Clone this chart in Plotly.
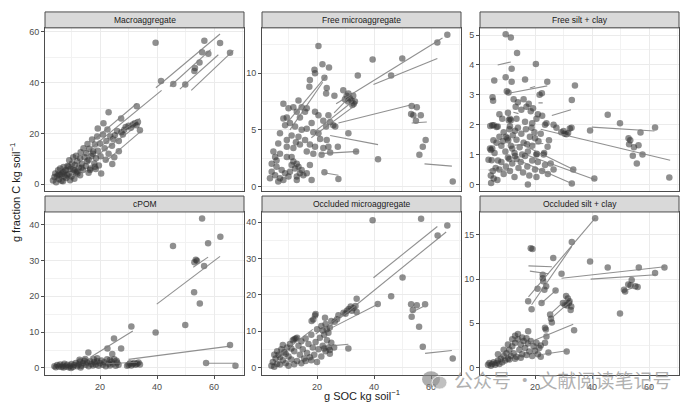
import plotly.graph_objects as go

# ---------------- data ----------------
panel_titles = ["Macroaggregate", "Free microaggregate", "Free silt + clay",
                "cPOM", "Occluded microaggregate", "Occluded silt + clay"]

macro_pts = [(39.5,55.7),(41.4,40.7),(45.7,39.5),(49.9,39.3),(53.1,44.6),(53.3,45.8),(54.9,48.0),(55.8,52.0),(56.6,56.5),(58.0,51.4),(62.1,55.6),(65.6,51.8),
    (32.9,30.7),(23.0,28.4),(27.4,25.9),(34.0,21.3),(19.2,22.0),(21.2,24.0),(20.4,4.2),(24.3,8.0),(26.6,13.0),(25.2,19.3),
    (29.0,22.5),(30.0,23.0),(30.8,22.2),(31.5,23.5),(32.2,24.0),(32.8,23.2),(33.3,24.5),(28.5,21.5),(27.5,20.5),(26.0,21.0),
    (3.5,1.5),(4.0,2.8),(4.3,4.2),(4.6,0.8),(5.0,3.2),(5.3,5.5),(5.6,2.0),(6.0,6.2),(6.1,3.6),(6.5,1.4),(7.0,4.6),(7.2,6.8),(7.6,3.0),(8.0,5.6),(8.1,2.4),(8.6,7.2),(9.0,4.0),(9.2,9.4),(9.6,6.0),(10.0,3.0),(10.2,8.2),(10.6,10.6),(11.0,5.4),(11.2,7.6),(11.6,11.2),(12.0,9.0),(12.1,4.2),(12.6,6.6),(13.0,10.2),(13.2,12.6),(13.6,8.0),(14.0,5.6),(14.2,14.2),(14.6,10.6),(15.0,7.2),(15.2,12.2),(15.6,15.8),(16.0,9.6),(16.2,14.0),(16.6,6.2),(17.0,11.0),(17.2,17.6),(17.6,13.0),(18.0,8.2),(18.2,15.6),(18.6,10.2),(19.0,18.8),(19.2,13.2),(19.6,7.4),(20.0,16.0),(20.2,11.0),(21.0,19.6),(21.6,14.2),(22.0,9.6),(22.2,17.0),(22.6,21.6),(23.0,12.0),(23.6,18.8),(24.2,15.2),(24.6,17.8),(25.0,10.6),(26.6,17.0),(28.0,19.6),
    (12.0,5.0),(11.5,4.6),(10.5,5.8),(9.0,7.0),(7.5,5.0),(6.5,4.0),(5.5,3.8),(8.5,3.6),(13.5,6.5),(15.5,9.0),(17.5,12.0),(9.5,1.6),(11.0,2.2),(13.0,3.5),(7.0,1.2),(16.0,4.5),(18.5,6.0),(16.5,5.6),(18.2,6.9)]
macro_lines = [(39.6,38.0,62.1,59.2),(44.5,38.5,58.8,53.0),(48.0,37.5,61.5,51.0),(52.0,37.0,66.8,52.7),
    (17.7,17.4,32.9,31.8),(15.0,12.5,41.6,37.0),(20.0,14.8,34.0,25.9),(18.0,10.5,33.0,23.0),(22.0,9.0,34.5,21.0)]

freemicro_pts = [(20.5,12.4),(21.9,10.8),(24.2,10.5),(19.1,10.3),(19.3,10.0),(17.5,9.4),(17.3,8.8),(22.6,9.6),(23.4,8.7),(23.2,8.2),(26.1,8.0),(29.2,8.5),
    (30.4,8.0),(31.5,7.8),(32.1,7.6),(32.7,8.0),(33.3,7.5),(30.9,7.5),(32.4,7.2),(32.9,7.3),(31.0,8.2),(29.8,7.7),
    (34.3,9.8),(39.5,11.2),(46.0,9.8),(49.9,11.3),(62.2,12.7),(65.7,13.4),
    (53.2,7.1),(55.0,7.0),(53.0,6.4),(53.8,6.3),(54.7,5.8),(56.4,6.3),(58.1,4.1),(57.1,3.5),(55.9,2.8),(67.6,0.44),
    (41.4,2.4),(33.7,3.1),(27.3,3.5),(31.0,4.7),(25.7,5.4),(26.4,5.3),(22.6,1.26),(27.5,0.67),(18.1,0.58),
    (14.6,7.0),(16.4,6.9),(19.3,6.6),(20.5,6.3),(22.2,5.8),(24.0,6.3),(24.6,5.7),(23.2,5.3),(8.2,6.0),(8.8,5.4),(10.5,5.6),(12.3,5.3),(14.0,6.1),(14.6,5.0),(16.4,5.1),(18.1,5.6),(18.7,4.8),(20.5,4.7),(21.1,4.2),(23.4,4.1),(24.0,3.5),(22.2,3.4),(19.3,3.5),(17.5,3.7),(15.8,4.1),(13.5,4.4),(11.1,4.5),(9.4,4.1),(7.0,4.7),(6.4,3.8),(9.4,3.5),(11.7,3.4),(14.0,3.7),(16.4,3.1),(18.7,2.9),(21.6,2.8),(24.6,3.0),(12.6,3.9),
    (4.7,3.1),(5.3,2.6),(4.1,2.0),(5.8,1.75),(4.1,1.3),(5.3,1.0),(7.0,0.73),(6.4,0.44),(8.2,0.58),(10.0,0.88),(11.1,1.9),(11.7,2.2),(12.9,2.0),(13.5,1.75),(14.6,1.46),(15.2,1.0),(12.9,0.88),(17.5,1.9),(16.4,1.17),(7.6,1.46),(8.8,1.17),(10.5,1.3),(12.3,1.6),(14.0,1.17),(5.8,2.3),(7.0,2.9),(9.4,2.6),(11.1,2.6),(3.5,0.73),(12.9,0.58),
    (8.2,7.3),(10.0,6.9),(11.7,7.0),(12.9,6.6),(9.4,6.1),(13.5,7.6),(15.8,6.6)]
freemicro_lines = [(26.7,7.3,64.0,13.1),(39.8,9.0,62.2,11.3),(27.5,5.6,52.8,7.2),(53.2,5.6,58.5,5.7),(57.7,2.0,67.3,1.8),
    (24.6,4.5,41.4,3.7),(21.0,2.9,34.5,3.1),(22.9,1.2,27.5,1.0),(9.4,5.6,23.4,9.8),(10.5,5.0,22.0,9.2),
    (19.0,4.8,32.5,7.5),(18.0,4.3,33.0,7.1),(26.0,6.5,31.0,7.8)]

freesilt_pts = [(9.7,5.03),(11.5,4.92),(13.7,4.4),(11.8,3.87),(20.3,4.03),(9.7,3.59),(5.7,3.48),(11.8,3.44),(16.5,3.51),(24.3,3.44),(34.0,3.31),(32.9,2.83),(10.1,3.12),(10.7,3.08),(21.6,3.0),(22.4,3.05),(5.1,2.92),(5.3,2.8),
    (45.5,2.33),(49.8,2.05),(62.1,1.91),(57.0,1.74),(39.3,1.81),(52.8,1.55),(53.4,1.48),(53.0,1.35),(54.7,1.25),(56.3,1.31),(57.7,1.0),(54.3,0.96),(55.7,0.7),(67.1,0.23),
    (29.2,1.75),(30.4,1.7),(31.0,1.68),(31.6,1.72),(32.2,1.87),(30.0,1.79),(32.8,1.9),
    (40.8,0.2),(32.9,0.03),(33.4,0.5),(24.4,1.26),(24.9,1.48),(23.2,1.05),(23.0,1.0),
    (12.5,2.85),(13.2,2.6),(14.0,2.75),(15.2,2.5),(16.0,2.85),(17.0,2.6),(17.8,2.7),(18.5,2.45),(19.3,2.55),(20.5,2.2),(21.0,2.35),(7.5,2.35),(8.5,2.2),(10.5,2.4),(11.5,2.15),(13.5,2.2),(16.5,2.1),(19.0,2.05),(22.5,2.3),(23.5,2.0),(24.0,2.05),(4.3,1.96),(5.5,1.98),(6.5,1.92),(26.5,2.0),(27.5,1.9),
    (4.5,1.15),(5.0,1.2),(5.8,1.05),(6.5,1.4),(7.5,1.6),(8.2,1.3),(9.0,1.75),(9.6,1.1),(10.3,1.55),(11.0,1.85),(11.5,1.3),(12.2,1.65),(12.8,1.05),(13.5,1.5),(14.0,1.9),(14.6,1.25),(15.2,1.7),(16.0,1.4),(16.8,1.85),(17.5,1.1),(18.2,1.6),(19.0,1.3),(19.8,1.75),(20.5,1.0),(21.2,1.45),(22.0,1.7),(10.8,2.15),(11.2,1.95),(9.8,1.6),(12.0,1.2),(13.0,1.8),(8.7,1.45),(15.5,1.0),(17.2,1.35),(18.8,1.9),(20.0,1.55),
    (4.6,0.05),(4.5,0.3),(5.2,0.45),(5.5,0.2),(6.2,0.55),(6.8,0.15),(7.5,0.5),(8.2,0.75),(9.0,0.35),(9.8,0.6),(10.5,0.9),(11.2,0.45),(12.0,0.7),(12.8,0.25),(13.5,0.85),(14.2,0.55),(15.0,0.75),(15.8,0.4),(16.5,0.95),(17.3,0.6),(18.0,0.3),(19.0,0.8),(20.0,0.5),(21.0,0.75),(22.5,0.45),(23.5,0.65),(24.5,0.35),(25.5,0.7),(17.5,0.0),(11.0,0.85),(13.0,0.95),(7.0,0.8),(26.5,0.5),(20.5,0.25),
    (4.8,0.81),(3.7,0.83),(4.2,1.2),(5.4,1.48),(5.0,1.98),(6.9,1.94),(11.2,2.2),(20.6,1.03),(10.6,1.48)]
freesilt_lines = [(6.9,4.0,11.5,4.1),(11.2,3.06,24.3,3.3),(18.2,3.23,20.0,3.28),(25.9,2.31,32.6,2.5),(39.9,1.92,61.9,1.79),
    (22.0,1.85,67.4,0.81),(17.1,1.26,34.0,0.48),(15.9,1.03,41.6,0.14),(14.2,0.81,32.9,0.03),(3.7,0.48,11.3,0.48),
    (11.2,1.31,22.9,1.37),(12.4,2.42,14.2,2.37),(21.2,2.73,22.7,2.73)]

cpom_pts = [(55.8,41.7),(62.2,36.6),(57.9,34.8),(45.6,34.0),(53.6,30.2),(54.0,29.9),(53.1,29.5),(56.5,28.4),(53.0,21.1),(55.0,18.0),(49.9,12.0),(39.5,9.9),(65.6,6.4),(57.2,1.4),(67.5,0.65),
    (31.0,11.6),(24.9,8.2),(22.6,5.4),(27.4,5.4),(24.3,3.9),(15.9,4.3),(19.0,2.7),(23.5,2.2),
    (4.0,0.5),(4.5,0.2),(5.0,0.8),(5.5,0.4),(6.0,1.0),(6.5,0.3),(7.0,0.7),(7.5,1.2),(8.0,0.4),(8.5,0.9),(9.0,0.2),(9.5,0.6),(10.0,1.1),(10.5,0.3),(11.0,0.8),(11.5,1.4),(12.0,0.5),(12.5,1.0),(13.0,1.8),(13.5,0.6),(14.0,1.3),(14.5,2.0),(15.0,0.9),(15.5,1.5),(16.0,0.5),(16.5,1.9),(17.0,1.1),(17.5,0.7),(18.0,1.6),(18.5,1.0),(19.0,1.9),(19.5,0.6),(20.0,1.3),(20.5,2.1),(21.0,0.9),(21.5,1.6),(22.0,0.5),(22.5,2.4),(23.0,1.2),(23.5,0.7),(24.0,1.8),(24.5,1.2),(25.0,2.4),(25.5,0.6),(26.0,1.5),(26.5,0.9),
    (30.0,0.9),(30.5,1.3),(31.0,0.7),(31.5,1.1),(32.0,1.4),(32.5,0.9),(33.0,1.2),(33.5,1.5),(34.0,1.0),(29.5,0.6),(12.8,2.3),(14.8,2.5),(17.8,2.4),(25.8,2.0),(7.2,0.1),(9.8,0.0),(13.2,0.1)]
cpom_lines = [(39.9,17.8,62.1,31.1),(52.7,28.1,57.9,30.9),(16.5,2.9,31.5,10.3),(30.0,2.4,65.6,6.1),(57.7,1.3,67.4,1.3),(22.0,1.2,33.0,1.6)]

occmicro_pts = [(39.5,40.5),(56.5,40.9),(65.7,39.1),(62.3,36.3),(50.0,24.8),(46.0,19.6),(41.3,17.5),(33.9,18.9),(53.0,17.4),(55.0,17.1),(57.9,17.4),(53.6,15.8),(53.2,14.0),(55.8,11.2),(57.1,5.7),(67.6,2.5),(31.0,5.2),
    (19.3,14.3),(19.5,14.7),(18.7,13.2),(18.1,12.8),(22.8,13.7),
    (27.5,14.4),(29.3,15.1),(30.5,15.6),(31.1,16.1),(32.2,15.6),(32.8,16.4),(33.5,16.9),(33.9,15.3),(31.8,16.8),(30.0,14.8),
    (23.4,10.5),(24.0,9.6),(21.5,11.4),(23.0,12.0),(25.0,12.8),(26.2,12.6),(27.0,13.3),(24.5,11.0),(22.0,10.2),
    (4.0,0.5),(4.5,1.5),(5.0,0.2),(5.5,2.5),(6.0,1.0),(6.5,3.5),(7.0,0.8),(7.5,5.0),(8.0,2.0),(8.5,4.2),(9.0,1.2),(9.5,5.5),(10.0,3.0),(10.5,6.5),(11.0,2.2),(11.5,7.5),(12.0,4.5),(12.5,8.0),(13.0,1.8),(13.5,6.0),(14.0,3.5),(14.5,7.2),(15.0,5.0),(15.5,2.5),(16.0,8.0),(16.5,4.0),(17.0,6.5),(17.5,2.8),(18.0,9.0),(18.5,5.5),(19.0,3.5),(19.5,7.0),(20.0,10.5),(20.5,5.0),(21.0,8.2),(21.5,3.0),(22.0,6.0),(22.5,9.0),(23.0,4.5),(23.5,7.5),(24.0,5.5),(24.5,3.8),(25.0,6.8),
    (12.0,7.8),(13.0,8.2),(11.0,5.2),(9.0,3.8),(8.0,6.2),(6.0,4.5),(14.5,1.2),(16.0,1.8),(10.0,0.5),(12.0,0.9),(18.0,2.0),(20.0,1.5),(22.5,5.2),(24.5,4.8),(26.0,5.5),(7.0,2.8),(5.0,3.5)]
occmicro_lines = [(39.8,24.7,62.2,38.8),(24.0,11.0,65.3,37.3),(24.6,10.7,41.3,17.4),(53.2,15.2,57.3,16.8),
    (57.9,3.9,67.3,4.7),(24.0,5.9,31.0,6.4),(19.5,9.2,28.5,14.5),(6.0,3.0,18.5,10.5)]

occsilt_pts = [(41.1,16.9),(32.9,14.2),(18.5,13.5),(19.1,13.4),(26.4,12.4),(39.3,12.0),(45.5,11.3),(56.4,11.3),(65.4,11.3),(62.1,10.7),(29.3,10.6),(22.7,10.5),(22.7,10.1),(22.9,9.75),
    (53.9,9.9),(52.7,9.4),(53.5,9.3),(55.2,9.2),(56.0,9.1),(51.2,8.8),(51.6,8.6),
    (49.8,6.1),(23.9,9.2),(23.3,8.8),(20.9,8.9),(27.2,8.7),(17.6,7.5),(18.8,6.6),(22.3,7.3),
    (30.9,8.1),(31.5,7.8),(32.1,7.5),(29.8,7.3),(30.4,7.1),(32.7,6.9),(31.9,7.3),(32.5,6.5),(31.2,7.0),
    (33.7,4.2),(25.3,6.0),(25.6,5.5),(25.9,5.1),(23.5,4.5),(23.8,4.3),(17.6,4.1),(31.1,1.8),(24.7,1.7),
    (24.0,3.5),(23.5,2.8),(22.0,2.5),
    (3.5,0.3),(4.0,0.5),(4.5,0.2),(5.0,0.4),(5.5,0.6),(6.0,0.3),(6.5,0.5),(7.0,0.8),(7.5,0.4),(8.0,1.0),(8.5,0.6),(9.0,1.3),(9.5,0.8),(10.0,1.6),(10.5,1.0),(11.0,2.0),(11.5,1.3),(12.0,2.4),(12.5,1.6),(13.0,2.8),(13.5,1.2),(14.0,3.2),(14.5,2.0),(15.0,2.6),(15.5,1.5),(16.0,3.0),(16.5,2.2),(17.0,1.4),(17.5,2.7),(18.0,1.8),(18.5,3.0),(19.0,1.3),(19.5,2.4),(20.0,1.9),(20.5,2.8),(21.0,1.5),(21.5,2.2),(22.0,1.2),
    (13.0,3.6),(14.0,3.8),(12.0,3.2),(9.0,2.0),(7.0,1.5),(10.5,2.6),(15.5,3.4),(17.0,3.3),(11.0,0.9),(13.0,1.0),(15.0,1.1)]
occsilt_lines = [(17.7,8.0,41.1,16.9),(18.8,7.1,32.9,13.7),(17.7,11.5,25.9,11.4),(18.2,10.9,24.7,10.6),(29.3,10.1,65.5,11.4),
    (39.5,10.0,62.4,10.5),(52.2,8.8,55.5,9.1),(22.3,7.3,27.6,8.8),(25.9,6.2,32.3,8.1),(25.5,5.5,32.8,7.6),
    (17.7,2.8,33.4,4.9),(22.9,1.5,31.1,1.9)]

all_pts = [macro_pts, freemicro_pts, freesilt_pts, cpom_pts, occmicro_pts, occsilt_pts]
all_lines = [macro_lines, freemicro_lines, freesilt_lines, cpom_lines, occmicro_lines, occsilt_lines]

x_range = [0.7, 70.5]
y_ranges = [[-2.7, 61.6], [-0.4, 14.0], [-0.22, 5.24], [-2.0, 43.5], [-2.1, 42.8], [-0.87, 17.6]]
y_dticks = [20, 5, 1, 10, 10, 5]

# ---------------- layout geometry (pixels) ----------------
W, H = 692, 407
col_px = [(45, 244), (262, 461), (480, 679)]
row_px = [(27, 191), (212, 376)]       # plot area top/bottom
strip_px = [(11, 27), (196, 212)]      # strip top/bottom

def px_x(p): return p / W
def px_y(p): return 1 - p / H

fig = go.Figure()
layout = dict(width=W, height=H, margin=dict(l=0, r=0, t=0, b=0),
              paper_bgcolor="white", plot_bgcolor="white", showlegend=False)
shapes, annotations = [], []

tick_font = dict(family="Liberation Sans, Arial, sans-serif", size=9, color="#4D4D4D")

for i in range(6):
    r, c = divmod(i, 3)
    xn = "x" if i == 0 else f"x{i+1}"
    yn = "y" if i == 0 else f"y{i+1}"
    pts = all_pts[i]
    fig.add_trace(go.Scatter(x=[p[0] for p in pts], y=[p[1] for p in pts], mode="markers",
                             marker=dict(size=6.5, color="rgba(51,51,51,0.55)", line=dict(width=0)),
                             xaxis=xn, yaxis=yn, hoverinfo="skip"))
    lx, ly = [], []
    for (x0, y0, x1, y1) in all_lines[i]:
        lx += [x0, x1, None]
        ly += [y0, y1, None]
    fig.add_trace(go.Scatter(x=lx, y=ly, mode="lines",
                             line=dict(color="rgba(125,125,125,0.85)", width=1.1),
                             xaxis=xn, yaxis=yn, hoverinfo="skip"))
    xd = [px_x(col_px[c][0]), px_x(col_px[c][1])]
    yd = [px_y(row_px[r][1]), px_y(row_px[r][0])]
    common = dict(showline=True, mirror=True, linecolor="#4D4D4D", linewidth=1,
                  showgrid=True, gridcolor="#EBEBEB", gridwidth=1, zeroline=False,
                  ticks="outside", ticklen=3, tickcolor="#4D4D4D", tickwidth=1,
                  tickfont=tick_font)
    xa = dict(common, domain=xd, anchor=yn, range=x_range, tick0=0, dtick=20,
              minor=dict(dtick=10, tick0=0, showgrid=True, gridcolor="#F2F2F2", gridwidth=0.6, ticks=""))
    if r == 0:
        xa.update(showticklabels=False, ticks="")
    ya = dict(common, domain=yd, anchor=xn, range=y_ranges[i], tick0=0, dtick=y_dticks[i],
              minor=dict(dtick=y_dticks[i] / 2, tick0=0, showgrid=True, gridcolor="#F2F2F2", gridwidth=0.6, ticks=""))
    layout["xaxis" if i == 0 else f"xaxis{i+1}"] = xa
    layout["yaxis" if i == 0 else f"yaxis{i+1}"] = ya
    # strip
    shapes.append(dict(type="rect", xref="paper", yref="paper",
                       x0=xd[0], x1=xd[1], y0=px_y(strip_px[r][1]), y1=px_y(strip_px[r][0]),
                       fillcolor="#D9D9D9", line=dict(color="#4D4D4D", width=1)))
    annotations.append(dict(text=panel_titles[i], xref="paper", yref="paper",
                            x=(xd[0] + xd[1]) / 2, y=px_y((strip_px[r][0] + strip_px[r][1]) / 2),
                            showarrow=False, xanchor="center", yanchor="middle",
                            font=dict(family="Liberation Sans, Arial, sans-serif", size=8.5, color="#1A1A1A")))

annotations.append(dict(text="g SOC kg soil<sup>−1</sup>", xref="paper", yref="paper",
                        x=px_x(362), y=px_y(396), showarrow=False, xanchor="center", yanchor="middle",
                        font=dict(family="Liberation Sans, Arial, sans-serif", size=11, color="#1A1A1A")))
annotations.append(dict(text="g fraction C kg soil<sup>−1</sup>", xref="paper", yref="paper",
                        x=px_x(15), y=px_y(193), showarrow=False, textangle=-90,
                        xanchor="center", yanchor="middle",
                        font=dict(family="Liberation Sans, Arial, sans-serif", size=11, color="#1A1A1A")))
annotations.append(dict(text="公众号 · 文献阅读笔记号", xref="paper", yref="paper",
                        x=px_x(452), y=px_y(380), showarrow=False, xanchor="left", yanchor="middle",
                        font=dict(family="Noto Sans CJK SC", size=19, color="rgba(150,150,150,0.75)")))
# watermark icon (two speech bubbles)
shapes.append(dict(type="circle", xref="paper", yref="paper",
                   x0=px_x(422), x1=px_x(440), y0=px_y(388), y1=px_y(372),
                   fillcolor="rgba(130,130,130,0.65)", line=dict(width=0)))
shapes.append(dict(type="circle", xref="paper", yref="paper",
                   x0=px_x(432), x1=px_x(447), y0=px_y(390), y1=px_y(377),
                   fillcolor="rgba(150,150,150,0.6)", line=dict(color="rgba(255,255,255,0.8)", width=1)))

layout["shapes"] = shapes
layout["annotations"] = annotations
fig.update_layout(**layout)
fig.write_html("out.html")
